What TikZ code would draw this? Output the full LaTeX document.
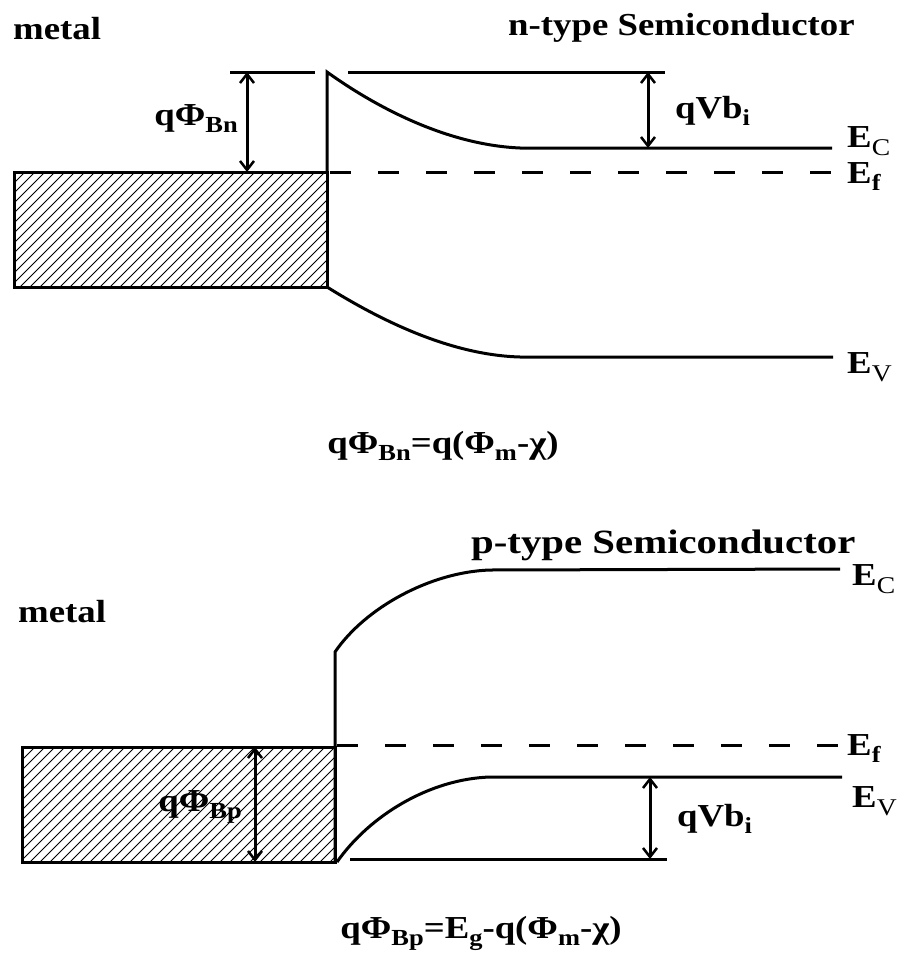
\documentclass[tikz,border=0pt]{standalone}
\usepackage{fontspec}
\setmainfont{Liberation Serif}
\usetikzlibrary{arrows.meta}
\newcommand\sbb[1]{\raisebox{-7pt}{\fontsize{23}{23}\selectfont #1}}
\newcommand\sbr[1]{\raisebox{-8pt}{\fontsize{24}{24}\selectfont\mdseries #1}}
\newcommand\wide[1]{\scalebox{1.15}[1]{#1}}
\tikzset{
  band/.style={line width=3pt},
  fermi/.style={line width=3pt, dash pattern=on 21pt off 27pt},
  metalbox/.style={line width=3pt},
  hatchline/.style={line width=1pt},
  gap/.style={line width=3pt, {Straight Barb[length=9pt,width=14pt,line width=2.5pt]}-{Straight Barb[length=9pt,width=14pt,line width=2.5pt]}},
  lbl/.style={font=\fontsize{32}{36}\selectfont\bfseries, inner sep=0pt},
}
\begin{document}
\begin{tikzpicture}[x=1pt,y=-1pt]
\useasboundingbox (0,0) rectangle (900,953);
% ---------- top: n-type ----------
\node[lbl, anchor=base west] (metalA) at (13,39) {\wide{metal}};
\node[lbl, anchor=base west] (ntype) at (508,35) {\wide{n-type Semiconductor}};
\begin{scope}
  \clip (14,172) rectangle (327,287);
  \foreach \i in {0,...,45} \draw[hatchline] (\i*10-110,287) -- (\i*10+5,172);
\end{scope}
\draw[metalbox] (14,172) rectangle (327,287);
\draw[band] (230,72) -- (315,72);
\draw[band] (348,72) -- (665,72);
\draw[band] (327,172) -- (327,72) .. controls (380,110) and (450,145) .. (520,148) -- (832,148);
\draw[fermi] (330,172) -- (832,172);
\draw[band] (327,287) .. controls (380,320) and (450,355) .. (520,357) -- (833,357);
\coordinate (bnT) at (247,72);
\coordinate (bnB) at (247,172);
\draw[gap] (bnT) -- (bnB);
\coordinate (vbT) at (648,72);
\coordinate (vbB) at (648,148);
\draw[gap] (vbT) -- (vbB);
\node[lbl, anchor=base east] (phiBn) at (238,125) {\wide{qΦ\sbb{Bn}}};
\node[lbl, anchor=base west] (vbiA) at (675,118) {\wide{qVb\sbb{i}}};
\node[lbl, anchor=base west] (ecA) at (847,147) {\wide{E\sbr{C}}};
\node[lbl, anchor=base west] (efA) at (847,183) {\wide{E\sbb{f}}};
\node[lbl, anchor=base west] (evA) at (847,373) {\wide{E\sbr{V}}};
\node[lbl, anchor=base] (eqA) at (443,453) {\wide{qΦ\sbb{Bn}=q(Φ\sbb{m}-χ)}};
% ---------- bottom: p-type ----------
\node[lbl, anchor=base west] (metalB) at (18,622) {\wide{metal}};
\node[lbl, font=\fontsize{34}{38}\selectfont\bfseries, anchor=base west] (ptype) at (471,553) {\scalebox{1.2}[1]{p-type Semiconductor}};
\begin{scope}
  \clip (22,747) rectangle (335,862);
  \foreach \i in {0,...,45} \draw[hatchline] (\i*10-110,862) -- (\i*10+5,747);
\end{scope}
\draw[metalbox] (22,747) rectangle (335,862);
\draw[band] (335,862) -- (335,652) .. controls (365,608) and (430,572) .. (490,570) -- (840,569);
\draw[fermi] (337,745) -- (840,745);
\draw[band] (337,862) .. controls (370,815) and (430,779) .. (490,777) -- (842,777);
\draw[band] (350,859) -- (667,859);
\coordinate (bpT) at (255,747);
\coordinate (bpB) at (255,862);
\draw[gap] (bpT) -- (bpB);
\coordinate (vpT) at (650,777);
\coordinate (vpB) at (650,859);
\draw[gap] (vpT) -- (vpB);
\node[lbl, anchor=base east] (phiBp) at (242,811) {\wide{qΦ\sbb{Bp}}};
\node[lbl, anchor=base west] (vbiB) at (677,826) {\wide{qVb\sbb{i}}};
\node[lbl, anchor=base west] (ecB) at (852,585) {\wide{E\sbr{C}}};
\node[lbl, anchor=base west] (efB) at (847,755) {\wide{E\sbb{f}}};
\node[lbl, anchor=base west] (evB) at (852,807) {\wide{E\sbr{V}}};
\node[lbl, anchor=base] (eqB) at (481,938) {\wide{qΦ\sbb{Bp}=E\sbb{g}-q(Φ\sbb{m}-χ)}};
\end{tikzpicture}
\end{document}
